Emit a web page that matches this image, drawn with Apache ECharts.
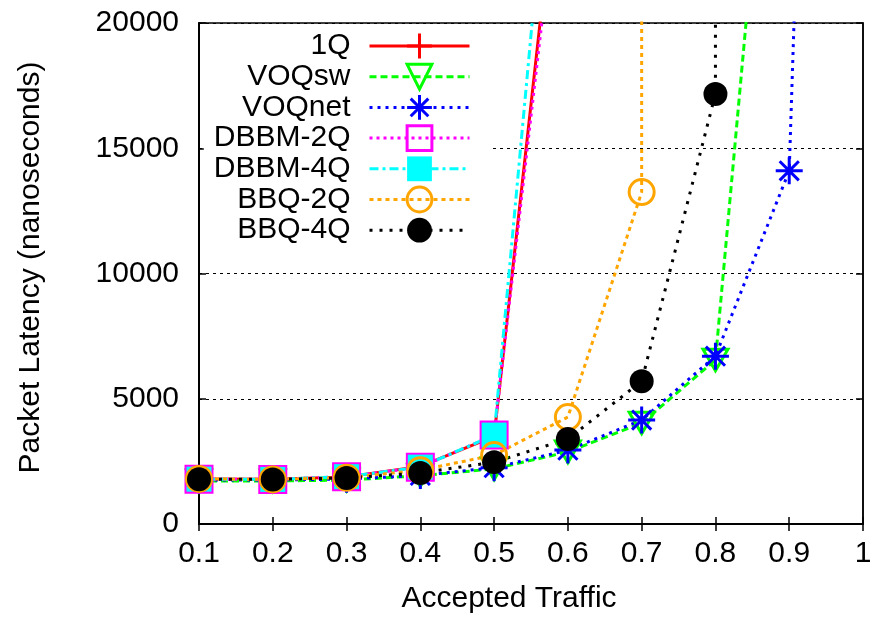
<!DOCTYPE html>
<html>
<head>
<meta charset="utf-8">
<script src="https://cdn.jsdelivr.net/npm/echarts@6/dist/echarts.min.js"></script>
<style>
  html, body { margin: 0; padding: 0; background: #fff; }
  #chart { width: 880px; height: 617px; }
</style>
</head>
<body>
<div id="chart"></div>
<script>
// accepted traffic (x) and packet latency in ns (y), one pair of arrays per curve
// the last point of a curve is where it shoots off the top of the plot
let x1Q = [0.1, 0.2, 0.3, 0.4, 0.5, 0.6];
let y1Q = [1800, 1790, 1880, 2300, 3500, 30000];
let xVOQsw = [0.1, 0.2, 0.3, 0.4, 0.5, 0.6, 0.7, 0.8, 0.9];
let yVOQsw = [1720, 1720, 1750, 1930, 2200, 2880, 4030, 6550, 39000];
let xVOQnet = [0.1, 0.2, 0.3, 0.4, 0.5, 0.6, 0.7, 0.8, 0.9, 1.0];
let yVOQnet = [1760, 1760, 1790, 1940, 2250, 2950, 4150, 6700, 14100, 105000];
let xDBBM2Q = [0.1, 0.2, 0.3, 0.4, 0.5, 0.6];
let yDBBM2Q = [1790, 1780, 1890, 2270, 3550, 29000];
let xDBBM4Q = [0.1, 0.2, 0.3, 0.4, 0.5, 0.6];
let yDBBM4Q = [1790, 1780, 1890, 2270, 3550, 35500];
let xBBQ2Q = [0.1, 0.2, 0.3, 0.4, 0.5, 0.6, 0.7, 0.7];
let yBBQ2Q = [1800, 1780, 1850, 2150, 2750, 4270, 13250, 60000];
let xBBQ4Q = [0.1, 0.2, 0.3, 0.4, 0.5, 0.6, 0.7, 0.8, 0.8];
let yBBQ4Q = [1790, 1780, 1840, 2040, 2470, 3390, 5700, 17170, 60000];

let xTicks = { min: 0.1, max: 1, interval: 0.1 };
let yTicks = { min: 0, max: 20000, interval: 5000 };

let font = 'Liberation Sans';
let clear = 'rgba(0,0,0,0)';

function pairs(xs, ys) {
    return xs.map(function (x, i) { return [x, ys[i]]; });
}

// gnuplot-like marker shapes
let plusPath = 'path://M-10,0 L10,0 M0,-10 L0,10';
let starPath = 'path://M-10,0 L10,0 M0,-10 L0,10 M-7.1,-7.1 L7.1,7.1 M-7.1,7.1 L7.1,-7.1';
let triDownPath = 'path://M-11,-9 L11,-9 L0,10 Z';

function makeSeries(name, xs, ys, color, dash, symbol, size, hollow) {
    return {
        name: name,
        type: 'line',
        data: pairs(xs, ys),
        symbol: symbol,
        symbolSize: size,
        symbolKeepAspect: true,
        showSymbol: true,
        clip: true,
        lineStyle: { color: color, width: 3, type: dash },
        itemStyle: hollow
            ? { color: clear, borderColor: color, borderWidth: 3 }
            : { color: color, borderWidth: 0 },
        emphasis: { disabled: true },
        z: 3
    };
}

let chart = echarts.init(document.getElementById('chart'));

let tickLine = { color: '#000', width: 1.5 };

let option = {
    animation: false,
    backgroundColor: '#fff',
    textStyle: { fontFamily: font, color: '#000' },
    grid: {
        left: 199,
        right: 17,
        top: 23,
        bottom: 93,
        outerBoundsMode: 'none',
        containLabel: false,
        show: true,
        borderColor: '#000',
        borderWidth: 1.5
    },
    legend: {
        orient: 'vertical',
        align: 'right',
        right: 390,
        top: 29,
        padding: [2, 19, 2, 10],
        backgroundColor: '#fff',
        itemWidth: 100,
        itemHeight: 31,
        itemGap: 0.7,
        selectedMode: false,
        lineStyle: { width: 'inherit' },
        itemStyle: { borderWidth: 'inherit' },
        formatter: function (name) { return '{t|' + name + '}'; },
        textStyle: {
            rich: {
                t: { fontSize: 30, fontFamily: font, color: '#000', padding: [0, 14, 0, 0] }
            }
        },
        data: ['1Q', 'VOQsw', 'VOQnet', 'DBBM-2Q', 'DBBM-4Q', 'BBQ-2Q', 'BBQ-4Q']
    },
    xAxis: [
        {
            type: 'value',
            position: 'bottom',
            min: xTicks.min,
            max: xTicks.max,
            interval: xTicks.interval,
            name: 'Accepted Traffic',
            nameLocation: 'middle',
            nameGap: 60,
            nameTextStyle: { fontSize: 30, fontFamily: font, color: '#000', padding: [0, 44, 0, 0] },
            axisLine: { show: true, lineStyle: { color: '#000', width: 2 } },
            axisTick: { show: true, inside: true, length: 7, lineStyle: tickLine },
            axisLabel: { fontSize: 30, fontFamily: font, color: '#000', margin: 15 },
            splitLine: { show: false }
        },
        {
            type: 'value',
            position: 'top',
            min: xTicks.min,
            max: xTicks.max,
            interval: xTicks.interval,
            axisLine: { show: true, lineStyle: { color: '#000', width: 1.5 } },
            axisTick: { show: true, inside: true, length: 7, lineStyle: tickLine },
            axisLabel: { show: false },
            splitLine: { show: false }
        }
    ],
    yAxis: [
        {
            type: 'value',
            position: 'left',
            min: yTicks.min,
            max: yTicks.max,
            interval: yTicks.interval,
            name: 'Packet Latency (nanoseconds)',
            nameLocation: 'middle',
            nameGap: 153,
            nameRotate: 90,
            nameTextStyle: { fontSize: 30, fontFamily: font, color: '#000', padding: [0, 0, 0, 12] },
            axisLine: { show: true, lineStyle: { color: '#000', width: 2 } },
            axisTick: { show: true, inside: true, length: 7, lineStyle: tickLine },
            axisLabel: {
                fontSize: 30, fontFamily: font, color: '#000', margin: 20,
                formatter: function (v) { return String(v); }
            },
            splitLine: { show: true, lineStyle: { color: '#000', width: 1, type: [3, 4] } }
        },
        {
            type: 'value',
            position: 'right',
            min: yTicks.min,
            max: yTicks.max,
            interval: yTicks.interval,
            axisLine: { show: true, lineStyle: { color: '#000', width: 1.5 } },
            axisTick: { show: true, inside: true, length: 7, lineStyle: tickLine },
            axisLabel: { show: false },
            splitLine: { show: false }
        }
    ],
    series: [
        makeSeries('1Q', x1Q, y1Q, '#ff0000', 'solid', plusPath, 25, true),
        makeSeries('VOQsw', xVOQsw, yVOQsw, '#00ff00', [7, 4], triDownPath, 25, true),
        makeSeries('VOQnet', xVOQnet, yVOQnet, '#0000ff', [3, 5], starPath, 27, true),
        makeSeries('DBBM-2Q', xDBBM2Q, yDBBM2Q, '#ff00ff', [3, 4], 'rect', 26, true),
        makeSeries('DBBM-4Q', xDBBM4Q, yDBBM4Q, '#00ffff', [9, 4, 3, 4], 'rect', 25, false),
        makeSeries('BBQ-2Q', xBBQ2Q, yBBQ2Q, '#ffa500', [4, 4], 'circle', 25, true),
        makeSeries('BBQ-4Q', xBBQ4Q, yBBQ4Q, '#000000', [3, 7], 'circle', 24, false)
    ]
};
chart.setOption(option);
</script>
</body>
</html>
